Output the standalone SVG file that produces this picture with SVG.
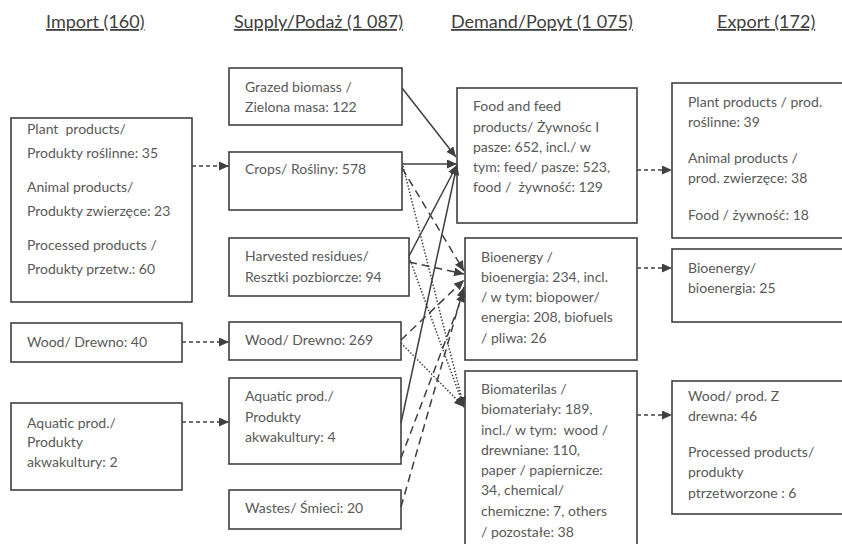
<svg xmlns="http://www.w3.org/2000/svg" width="842" height="544" viewBox="0 0 842 544">
<defs>
<marker id="ah" markerUnits="userSpaceOnUse" markerWidth="11" markerHeight="9" refX="10" refY="4.5" orient="auto"><path d="M0,0 L10,4.5 L0,9 z" fill="#404040"/></marker>
<style>
.box{fill:#fff;stroke:#404040;stroke-width:1.6}
text{font-family:Lato,"Liberation Sans",sans-serif;font-size:14px;fill:#595959}
.hd{font-size:18px;fill:#404040;text-decoration:underline}
.ln{fill:none;stroke:#404040;stroke-width:1.5}
.sd{stroke-dasharray:4 3}
.ld{stroke-dasharray:8 5}
.dt{stroke-dasharray:1.5 1.8}
</style>
</defs>
<rect width="842" height="544" fill="#fff"/>
<g id="headers">
<text class="hd" x="46" y="28">Import (160)</text>
<text class="hd" x="234" y="28">Supply/Podaż (1 087)</text>
<text class="hd" x="451" y="28">Demand/Popyt (1 075)</text>
<text class="hd" x="717" y="28">Export (172)</text>
</g>
<g id="imp-products"><rect class="box" x="11" y="118" width="181" height="184"/>
<text x="27" y="134" style="white-space:pre">Plant  products/</text><text x="27" y="158">Produkty roślinne: 35</text>
<text x="27" y="192">Animal products/</text><text x="27" y="216">Produkty zwierzęce: 23</text>
<text x="27" y="250">Processed products /</text><text x="27" y="274">Produkty przetw.: 60</text></g>
<g id="imp-wood"><rect class="box" x="11" y="323" width="171" height="39"/><text x="27" y="347">Wood/ Drewno: 40</text></g>
<g id="imp-aquatic"><rect class="box" x="11" y="403" width="171" height="87"/>
<text x="27" y="428">Aquatic prod./</text><text x="27" y="447">Produkty</text><text x="27" y="467">akwakultury: 2</text></g>
<g id="sup-grazed"><rect class="box" x="229" y="68" width="173" height="57"/><text x="245" y="92">Grazed biomass /</text><text x="245" y="112">Zielona masa: 122</text></g>
<g id="sup-crops"><rect class="box" x="229" y="152" width="173" height="58"/><text x="245" y="174">Crops/ Rośliny: 578</text></g>
<g id="sup-residues"><rect class="box" x="229" y="238" width="180" height="58"/><text x="245" y="261">Harvested residues/</text><text x="245" y="282">Resztki pozbiorcze: 94</text></g>
<g id="sup-wood"><rect class="box" x="229" y="322" width="172" height="38"/><text x="245" y="345">Wood/ Drewno: 269</text></g>
<g id="sup-aquatic"><rect class="box" x="229" y="378" width="172" height="86"/><text x="245" y="401">Aquatic prod./</text><text x="245" y="422">Produkty</text><text x="245" y="442">akwakultury: 4</text></g>
<g id="sup-wastes"><rect class="box" x="229" y="490" width="172" height="39"/><text x="245" y="513">Wastes/ Śmieci: 20</text></g>
<g id="dem-food"><rect class="box" x="457" y="88" width="180" height="135"/>
<text x="473" y="111">Food and feed</text><text x="473" y="132">products/ Żywnośc I</text><text x="473" y="152">pasze: 652, incl./ w</text><text x="473" y="172">tym: feed/ pasze: 523,</text><text x="473" y="192" style="white-space:pre">food /  żywność: 129</text></g>
<g id="dem-bioenergy"><rect class="box" x="465" y="238" width="172" height="122"/>
<text x="481" y="262">Bioenergy /</text><text x="481" y="282">bioenergia: 234, incl.</text><text x="481" y="302">/ w tym: biopower/</text><text x="481" y="322">energia: 208, biofuels</text><text x="481" y="343">/ pliwa: 26</text></g>
<g id="dem-biomaterials"><rect class="box" x="465" y="371" width="172" height="200"/>
<text x="481" y="394">Biomaterilas /</text><text x="481" y="414">biomateriały: 189,</text><text x="481" y="435" style="white-space:pre">incl./ w tym:  wood /</text><text x="481" y="455">drewniane: 110,</text><text x="481" y="475">paper / papiernicze:</text><text x="481" y="495">34, chemical/</text><text x="481" y="516">chemiczne: 7, others</text><text x="481" y="537">/ pozostałe: 38</text></g>
<g id="exp-products"><rect class="box" x="672" y="83" width="180" height="155"/>
<text x="688" y="107">Plant products / prod.</text><text x="688" y="127">roślinne: 39</text><text x="688" y="163">Animal products /</text><text x="688" y="183">prod. zwierzęce: 38</text><text x="688" y="220">Food / żywność: 18</text></g>
<g id="exp-bioenergy"><rect class="box" x="672" y="249" width="180" height="73"/><text x="688" y="273">Bioenergy/</text><text x="688" y="293">bioenergia: 25</text></g>
<g id="exp-wood"><rect class="box" x="672" y="381" width="180" height="133"/>
<text x="688" y="401">Wood/ prod. Z</text><text x="688" y="421">drewna: 46</text><text x="688" y="457">Processed products/</text><text x="688" y="477">produkty</text><text x="688" y="498">ptrzetworzone : 6</text></g>
<g id="connectors" marker-end="url(#ah)">
<path class="ln sd" d="M192,166 L229,166"/>
<path class="ln sd" d="M182,342 L229,342"/>
<path class="ln sd" d="M182,422 L229,422"/>
<path class="ln sd" d="M637,170 L672,170"/>
<path class="ln sd" d="M637,268 L672,268"/>
<path class="ln sd" d="M637,415 L672,415"/>
<path class="ln" d="M402,88 L456,157"/>
<path class="ln" d="M402,164 L457,164"/>
<path class="ln" d="M409,256 L457,165"/>
<path class="ln" d="M401,423 L457,165"/>
<path class="ln ld" d="M402,168 L464,271"/>
<path class="ln ld" d="M409,262 L464,274"/>
<path class="ln ld" d="M401,340 L464,280"/>
<path class="ln ld" d="M401,458 L464,292"/>
<path class="ln ld" d="M401,507 L464,287"/>
<path class="ln dt" d="M403,166 L464,407"/>
<path class="ln dt" d="M409,257 L464,407"/>
<path class="ln dt" d="M401,343 L464,407"/>
</g>
</svg>
